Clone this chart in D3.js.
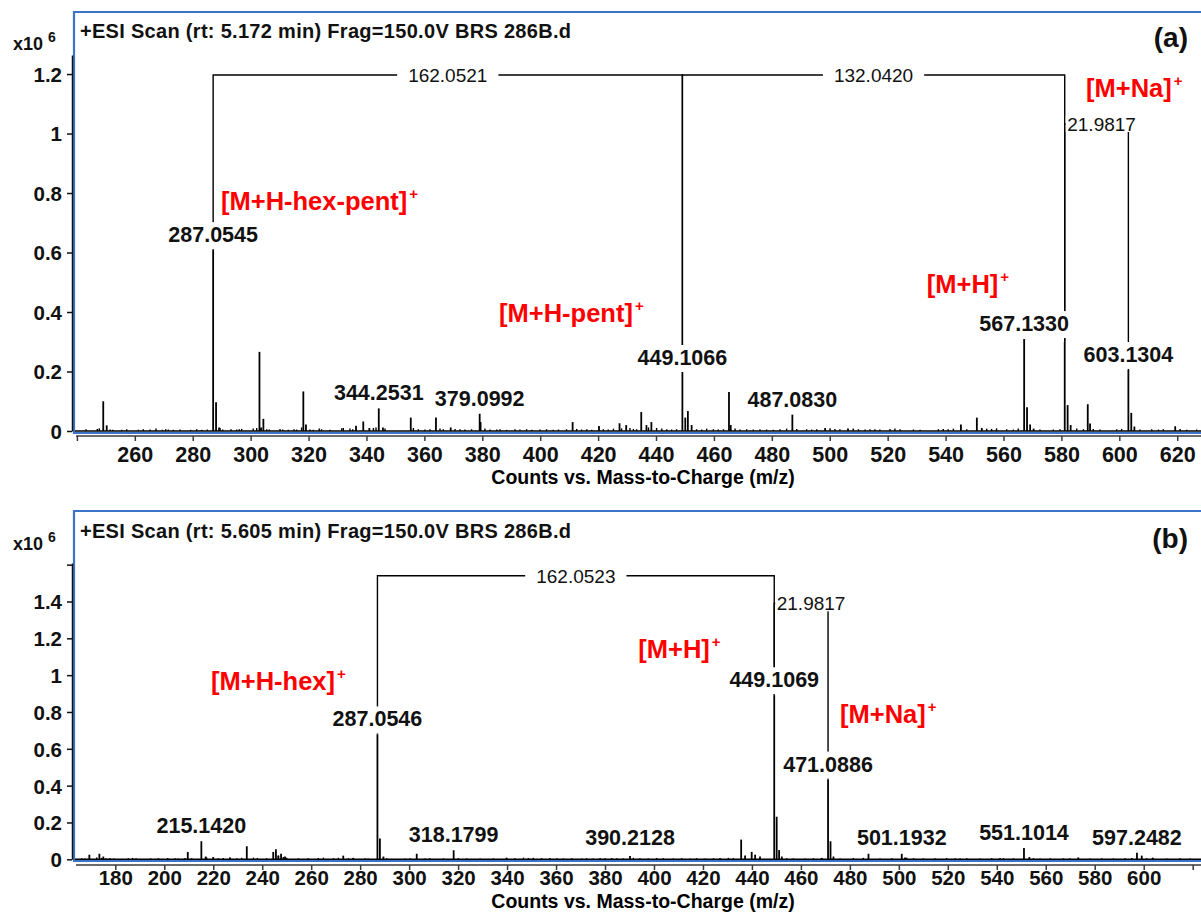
<!DOCTYPE html>
<html>
<head>
<meta charset="utf-8">
<script src="https://cdn.jsdelivr.net/npm/d3@7"></script>
<style>
  html, body { margin: 0; padding: 0; background: #fff; }
  svg { display: block; }
</style>
</head>
<body>
<svg id="chart" width="1201" height="915"></svg>
<script>
// ---------- Panel (a): scan at rt 5.172 min ----------
const titleA = "+ESI Scan (rt: 5.172 min) Frag=150.0V BRS 286B.d";
const xTicksA = [240, 260, 280, 300, 320, 340, 360, 380, 400, 420, 440, 460, 480, 500, 520, 540, 560, 580, 600, 620];
const xTickLabelsA = [260, 280, 300, 320, 340, 360, 380, 400, 420, 440, 460, 480, 500, 520, 540, 560, 580, 600, 620];
const yTicksA = [0, 0.2, 0.4, 0.6, 0.8, 1, 1.2];

// labelled peaks: [m/z, intensity x10^6]
const labelledA = [
  [287.0545, 0.608], [344.2531, 0.076], [379.0992, 0.058], [449.1066, 0.195],
  [487.0830, 0.055], [567.1330, 0.309], [603.1304, 0.205]
];
// other resolved peaks
const peaksA = [
  [249.1, 0.100], [250.3, 0.019], [288.06, 0.097], [289.1, 0.012], [303.05, 0.266],
  [303.6, 0.012], [304.4, 0.041], [318.2, 0.133], [319.1, 0.022], [336.4, 0.018],
  [338.9, 0.032], [341.0, 0.010], [345.7, 0.012], [355.3, 0.045], [364.0, 0.045],
  [369.1, 0.012], [379.4, 0.030], [411.2, 0.030], [420.3, 0.017], [427.4, 0.026],
  [429.7, 0.020], [434.9, 0.064], [436.7, 0.020], [438.4, 0.030], [450.11, 0.045],
  [451.0, 0.067], [452.3, 0.020], [465.2, 0.131], [465.8, 0.020], [498.4, 0.010],
  [506.3, 0.008], [545.3, 0.022], [550.8, 0.045], [552.5, 0.010], [568.13, 0.080],
  [569.2, 0.022], [570.4, 0.008], [581.1486, 0.300], [582.15, 0.087], [583.2, 0.020],
  [589.1, 0.090], [589.9, 0.025], [604.13, 0.061], [605.2, 0.015], [619.3, 0.016]
];
// low-level baseline signals
const noiseA = [
  [243.15,.006],[247.05,.007],[247.74,.009],[251.44,.005],[252.37,.004],[255.47,.004],[257.2,.006],
  [261.2,.004],[262.94,.006],[265.25,.005],[267.32,.008],[269.5,.004],[270.66,.006],[271.57,.005],
  [273.3,.004],[275.6,.005],[279.3,.004],[281.37,.006],[283.1,.004],[285.04,.005],[289.43,.01],
  [290.35,.005],[293.22,.006],[295.2,.005],[296.1,.006],[296.9,.007],[300.9,.008],[302.1,.01],
  [305.55,.006],[306.45,.005],[310.15,.007],[311.07,.005],[313,.004],[315,.006],[315.9,.005],
  [317.6,.012],[320.5,.005],[321.6,.004],[323.7,.008],[324.5,.006],[327.4,.004],[331.45,.009],
  [332,.01],[334.3,.008],[335.25,.006],[342.4,.01],[343.3,.012],[346.4,.008],
  [356.2,.01],[357.9,.006],[360.2,.005],[361.95,.006],[365.4,.008],[366.55,.006],[370.6,.007],
  [372.3,.006],[374,.005],[376.3,.006],[380.9,.008],[382.7,.005],[385,.005],[386.1,.006],
  [388.4,.004],[391.3,.006],[393,.005],[395.3,.006],[397.1,.004],[399.9,.005],[402.2,.006],
  [404.5,.004],[406.3,.005],[409.1,.006],[412.6,.007],[414.3,.005],[416.1,.006],[417.8,.004],
  [421.8,.006],[423.5,.005],[425.3,.008],[428.1,.009],[431,.01],[432.2,.007],[433.3,.006],
  [437.4,.012],[440.2,.01],[442,.008],[443.7,.006],[445.4,.005],[447.1,.006],[454,.006],
  [455.8,.005],[457.5,.008],[459.8,.006],[461.5,.005],[463.3,.006],[467.3,.008],[469,.005],
  [471.3,.006],[473.6,.005],[475.9,.006],[478.2,.005],[480.5,.004],[482.8,.006],[485.1,.008],
  [488.6,.007],[492,.006],[493.75,.005],[495.5,.006],[500.1,.009],[501.8,.007],[503.5,.006],
  [508.1,.008],[509.9,.006],[512.2,.005],[513.9,.006],[515.6,.006],[517.3,.005],[520.8,.007],
  [522.5,.008],[524.3,.006],[528.9,.005],[531.2,.004],[537.5,.006],[539.2,.007],[540.9,.006],
  [542.7,.008],[547.3,.006],[554.2,.008],[555.9,.007],[557.6,.009],[561.1,.006],[563.4,.005],
  [565.1,.008],[572.6,.005],[577.2,.005],[579.5,.006],[585.3,.008],[587.6,.006],[591,.007],
  [593.3,.005],[599.1,.006],[600.8,.007],[607.1,.005],[611.2,.006],[613.5,.005],[615.2,.006],
  [621,.007],[623.3,.004],[626.7,.005]
];
// mass differences between peaks: [from m/z, to m/z, text, bracket height x10^6]
const bracketsA = [
  [287.0545, 449.1066, "162.0521", 1.197],
  [449.1066, 581.1486, "132.0420", 1.197],
  [581.1486, 603.1304, "21.9817", 1.032]
];
// ion assignments: [text, charge, m/z, height x10^6]
const ionsA = [
  ["[M+H-hex-pent]", "+", 289.77, 0.743],
  ["[M+H-pent]", "+", 385.8, 0.366],
  ["[M+H]", "+", 533.5, 0.464],
  ["[M+Na]", "+", 588.5, 1.124]
];

// ---------- Panel (b): scan at rt 5.605 min ----------
const titleB = "+ESI Scan (rt: 5.605 min) Frag=150.0V BRS 286B.d";
const xTicksB = [180, 200, 220, 240, 260, 280, 300, 320, 340, 360, 380, 400, 420, 440, 460, 480, 500, 520, 540, 560, 580, 600, 620];
const xTickLabelsB = [180, 200, 220, 240, 260, 280, 300, 320, 340, 360, 380, 400, 420, 440, 460, 480, 500, 520, 540, 560, 580, 600];
const yTicksB = [0, 0.2, 0.4, 0.6, 0.8, 1, 1.2, 1.4, 1.6];
const yTickLabelsB = [0, 0.2, 0.4, 0.6, 0.8, 1, 1.2, 1.4];

const labelledB = [
  [215.1420, 0.098], [287.0546, 0.678], [318.1799, 0.049], [390.2128, 0.018],
  [449.1069, 0.891], [471.0886, 0.433], [501.1932, 0.030], [551.1014, 0.062],
  [597.2482, 0.036]
];
const peaksB = [
  [169.4, 0.025], [173.5, 0.030], [175.1, 0.015], [209.6, 0.040], [216.9, 0.015],
  [220.0, 0.012], [226.8, 0.010], [233.7, 0.071], [244.5, 0.040], [245.6, 0.055],
  [246.6, 0.020], [247.7, 0.030], [249.3, 0.015], [273.1, 0.020], [277.2, 0.008],
  [288.06, 0.113], [289.5, 0.015], [303.1, 0.030], [339.8, 0.008], [435.6, 0.107],
  [437.2, 0.020], [439.9, 0.040], [441.3, 0.025], [443.3, 0.015], [450.11, 0.231],
  [451.1, 0.050], [452.2, 0.015], [468.5, 0.008], [472.09, 0.098], [473.3, 0.015],
  [487.6, 0.030], [502.5, 0.010], [553.3, 0.012], [573.3, 0.010], [599.2, 0.020],
  [603.7, 0.008]
];
const noiseB = [
  [166.3,.006],[167.6,.005],[172.4,.01],[174.4,.008],[176.2,.006],[177.8,.007],[179.5,.005],
  [185.3,.006],[187.1,.007],[188.5,.006],[194.4,.005],[197.6,.006],[201.4,.007],[204.4,.006],
  [205.7,.005],[208.5,.007],[211.2,.006],[217.3,.01],[220.0,.008],[222.1,.006],[224.1,.007],
  [226.8,.009],[229.6,.006],[231.6,.008],[236.4,.009],[238.0,.007],[241.8,.006],[246.6,.02],
  [248.6,.012],[250.0,.008],[254.8,.005],[258.8,.006],[262.9,.007],[265.0,.009],[269.1,.006],
  [271.1,.008],[275.2,.006],[277.2,.007],[282.0,.006],[283.3,.005],[290.8,.006],
  [298.3,.005],[300.4,.006],[306.5,.005],[308.5,.006],[314.0,.005],[320.1,.006],[323.5,.005],
  [329.0,.004],[334.4,.005],[339.8,.008],[343.2,.006],[346.7,.009],[348.7,.007],[350.7,.008],
  [354.1,.006],[357.5,.007],[360.3,.006],[363.0,.005],[366.4,.006],[370.5,.005],[372.5,.006],
  [375.2,.005],[378.0,.007],[380.0,.006],[382.7,.007],[384.8,.006],[387.5,.005],[391.6,.008],
  [394.3,.006],[397.7,.005],[401.1,.007],[403.8,.006],[407.9,.005],[411.3,.006],[414.7,.005],
  [417.4,.006],[420.9,.005],[424.3,.006],[427.0,.007],[430.4,.008],[432.4,.006],[454.2,.006],
  [456.9,.005],[461.7,.005],[465.1,.006],[476.0,.005],[481.4,.007],[485.5,.008],[492.3,.005],
  [497.1,.006],[503.2,.009],[506.0,.006],[510.0,.005],[514.8,.006],[519.5,.007],[523.0,.006],
  [525.0,.005],[527.7,.006],[533.2,.005],[537.9,.006],[541.3,.007],[542.7,.006],[546.8,.005],
  [555.0,.006],[557.7,.005],[561.8,.006],[567.2,.005],[569.9,.006],[573.3,.005],[578.1,.005],
  [582.9,.006],[587.6,.005],[592.4,.006],[595.1,.007],[601.2,.006],[603.7,.008],[609.4,.005],
  [614.9,.006],[619.0,.005]
];
const bracketsB = [
  [287.0546, 449.1069, "162.0523", 1.540],
  [449.1069, 471.0886, "21.9817", 1.390]
];
const ionsB = [
  ["[M+H-hex]", "+", 219.1, 0.920],
  ["[M+H]", "+", 393.6, 1.094],
  ["[M+Na]", "+", 476.0, 0.741]
];

// ---------- drawing ----------
const FONT = "'Liberation Sans', Arial, Helvetica, sans-serif";
const BLUE = "#3b73c8";
const svg = d3.select("#chart");

function drawPanel(p) {
  const g = svg.append("g");
  const x = d3.scaleLinear().domain(p.xDomain).range([74, 1201]);
  const y = d3.scaleLinear().domain([0, p.yMax]).range([p.yZero, p.yTop]);

  // frame
  g.append("path")
    .attr("d", `M1201,${p.frameTop}H74V${p.frameBottom}H1201`)
    .attr("fill", "none").attr("stroke", BLUE).attr("stroke-width", 2.2);

  // y axis
  const yAxis = d3.axisLeft(y).tickValues(p.yTicks).tickSize(5).tickSizeOuter(0)
    .tickFormat(d => p.yTickLabels.includes(d) ? d3.format("~g")(d) : "");
  const ya = g.append("g").attr("transform", "translate(72,0)").call(yAxis);
  ya.select(".domain").attr("stroke", "#111").attr("stroke-width", 1.5);
  ya.selectAll(".tick line").attr("stroke", "#111").attr("stroke-width", 1.5);
  ya.selectAll(".tick text").attr("x", -10).attr("dy", "0.36em")
    .style("font-family", FONT).style("font-size", "20.5px").style("font-weight", "bold").attr("fill", "#111");

  // x axis (separate line below the frame)
  const xAxis = d3.axisBottom(x).tickValues(p.xTicks).tickSize(5).tickSizeOuter(0)
    .tickFormat(d => p.xTickLabels.includes(d) ? d : "");
  const xa = g.append("g").attr("transform", `translate(0,${p.xAxisY})`).call(xAxis);
  xa.select(".domain").remove();
  xa.append("line").attr("x1", 76).attr("x2", 1201).attr("y1", 0).attr("y2", 0)
    .attr("stroke", "#3a3a3a").attr("stroke-width", 1.6);
  xa.selectAll(".tick line").attr("stroke", "#3a3a3a").attr("stroke-width", 1.5);
  xa.selectAll(".tick text").attr("y", p.tickLabelDy).attr("dy", 0)
    .style("font-family", FONT).style("font-size", p.tickFont).style("font-weight", "bold").attr("fill", "#111");

  g.append("text").attr("x", 643).attr("y", p.axisTitleY)
    .attr("text-anchor", "middle")
    .style("font-family", FONT).style("font-size", "19.5px").style("font-weight", "bold")
    .text("Counts vs. Mass-to-Charge (m/z)");

  // multiplier
  const mult = g.append("text").attr("x", 13).attr("y", p.multY)
    .style("font-family", FONT).style("font-weight", "bold").attr("fill", "#111");
  mult.append("tspan").style("font-size", "18px").text("x10 ");
  mult.append("tspan").style("font-size", "14px").attr("dy", -8).text("6");

  // title and panel letter
  g.append("text").attr("x", 80).attr("y", p.titleY)
    .style("font-family", FONT).style("font-size", "20px").style("font-weight", "bold")
    .style("letter-spacing", "0.3px").attr("fill", "#111").text(p.title);
  g.append("text").attr("x", 1188).attr("y", p.letterY).attr("text-anchor", "end")
    .style("font-family", FONT).style("font-size", "28px").style("font-weight", "bold")
    .attr("fill", "#111").text(p.letter);

  // spectrum
  const spec = g.append("g");
  spec.append("line").attr("x1", 75).attr("x2", 1201).attr("y1", y(0)).attr("y2", y(0))
    .attr("stroke", "#000").attr("stroke-width", 1.5);
  spec.selectAll("line.noise").data(p.noise).join("line").attr("class", "noise")
    .attr("x1", d => x(d[0])).attr("x2", d => x(d[0]))
    .attr("y1", y(0)).attr("y2", d => y(d[1]))
    .attr("stroke", "#000").attr("stroke-width", 1.4);
  spec.selectAll("line.peak").data(p.peaks.concat(p.labelled)).join("line").attr("class", "peak")
    .attr("x1", d => x(d[0])).attr("x2", d => x(d[0]))
    .attr("y1", y(0)).attr("y2", d => y(d[1]))
    .attr("stroke", "#000").attr("stroke-width", 1.8);

  // brackets showing mass differences
  const allPeaks = p.peaks.concat(p.labelled);
  const topOf = mz => y(allPeaks.find(d => Math.abs(d[0] - mz) < 1e-6)[1]);
  const br = g.append("g");
  p.brackets.forEach(b => {
    const x1 = x(b[0]), x2 = x(b[1]), yl = y(b[3]);
    br.append("path")
      .attr("d", `M${x1},${topOf(b[0])}V${yl}H${x2}V${topOf(b[1])}`)
      .attr("fill", "none").attr("stroke", "#000").attr("stroke-width", 1.4);
  });

  // bracket value labels
  p.brackets.forEach(b => {
    const x1 = x(b[0]), x2 = x(b[1]), yl = y(b[3]);
    const t = br.append("text").attr("y", yl + 7)
      .style("font-family", FONT).style("font-size", "19px").attr("fill", "#111").text(b[2]);
    const w = t.node().getComputedTextLength();
    let rx;
    if (w + 10 < x2 - x1) {
      t.attr("x", (x1 + x2) / 2).attr("text-anchor", "middle");
      rx = [(x1 + x2) / 2 - w / 2 - 11, w + 22];
    } else {
      t.attr("x", x1 + 2.5);
      rx = [x1 + 1, w + 4];
    }
    br.insert("rect", "text:last-child")
      .attr("x", rx[0]).attr("width", rx[1]).attr("y", yl - 8).attr("height", 16).attr("fill", "#fff");
    t.raise();
  });

  // peak m/z labels
  const lab = g.append("g");
  p.labelled.forEach(d => {
    const base = Math.min(y(d[1]) - 8, y(0) - 14);
    const t = lab.append("text").attr("x", x(d[0])).attr("y", base).attr("text-anchor", "middle")
      .style("font-family", FONT).style("font-size", "21.5px").style("font-weight", "bold")
      .attr("fill", "#111").text(d[0].toFixed(4));
    const bb = t.node().getBBox();
    lab.insert("rect", "text:last-child")
      .attr("x", bb.x - 2).attr("y", bb.y - 1).attr("width", bb.width + 4).attr("height", bb.height + 3)
      .attr("fill", "#fff");
    t.raise();
  });

  // ion assignments in red
  p.ions.forEach(d => {
    const t = g.append("text").attr("x", x(d[2])).attr("y", y(d[3]))
      .style("font-family", FONT).style("font-weight", "bold").attr("fill", "#ff0000");
    t.append("tspan").style("font-size", "25.5px").text(d[0]);
    t.append("tspan").style("font-size", "15px").attr("dx", 2).attr("dy", -11).text(d[1]);
  });
}

drawPanel({
  title: titleA, letter: "(a)",
  xDomain: [239.0, 628.21], yMax: 1.264, yZero: 431, yTop: 55,
  frameTop: 12, frameBottom: 433, xAxisY: 436, tickLabelDy: 26, tickFont: "21.5px",
  axisTitleY: 484, multY: 49.5, titleY: 38, letterY: 47,
  xTicks: xTicksA, xTickLabels: xTickLabelsA, yTicks: yTicksA, yTickLabels: yTicksA,
  labelled: labelledA, peaks: peaksA, noise: noiseA, brackets: bracketsA, ions: ionsA
});

drawPanel({
  title: titleB, letter: "(b)",
  xDomain: [163.13, 623.4], yMax: 1.609, yZero: 859.3, yTop: 563,
  frameTop: 511, frameBottom: 861, xAxisY: 865, tickLabelDy: 20, tickFont: "20.5px",
  axisTitleY: 907.5, multY: 549.5, titleY: 538, letterY: 548,
  xTicks: xTicksB, xTickLabels: xTickLabelsB, yTicks: yTicksB, yTickLabels: yTickLabelsB,
  labelled: labelledB, peaks: peaksB, noise: noiseB, brackets: bracketsB, ions: ionsB
});
</script>
</body>
</html>
